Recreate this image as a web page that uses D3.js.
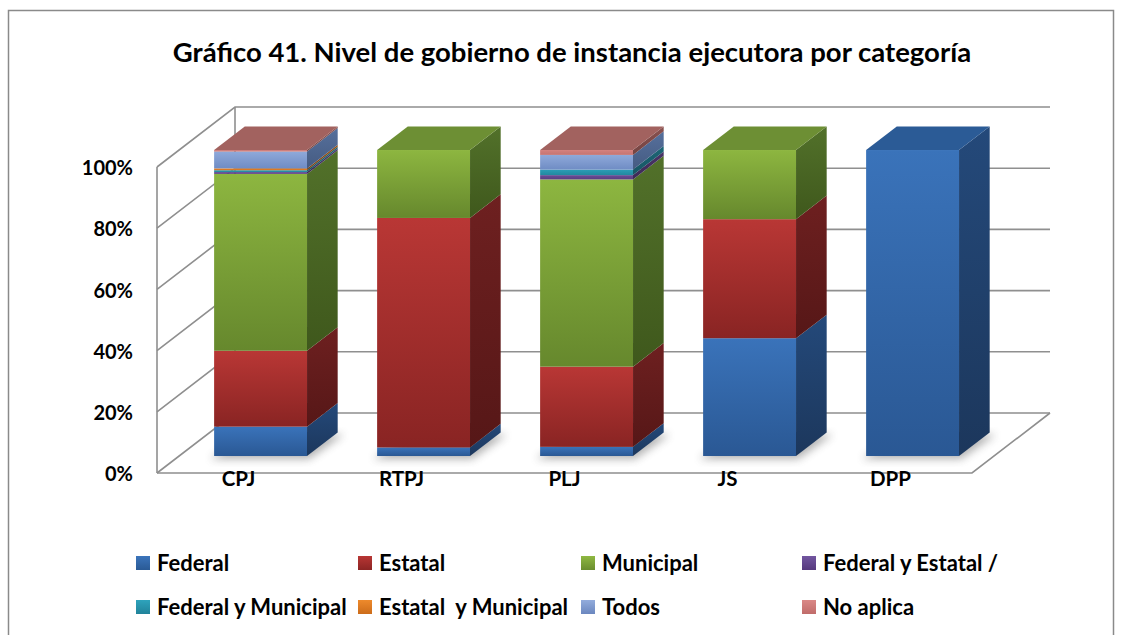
<!DOCTYPE html>
<html>
<head>
<meta charset="utf-8">
<script src="https://cdn.jsdelivr.net/npm/d3@7"></script>
<style>
  html, body { margin: 0; padding: 0; background: #fff; }
  svg { display: block; }
  text { font-family: Lato, "Open Sans", "DejaVu Sans", sans-serif; font-weight: 700; fill: #000; }
</style>
</head>
<body>
<svg id="chart" width="1122" height="635"></svg>
<script>
// Categories along the floor
const categories = ["CPJ", "RTPJ", "PLJ", "JS", "DPP"];

// Stacked series (percent of each category)
const seriesNames = ["Federal", "Estatal", "Municipal", "Federal y Estatal /",
                     "Federal y Municipal", "Estatal  y Municipal", "Todos", "No aplica"];
const federal        = [9.6, 2.8, 3.0, 38.5, 100];
const estatal        = [24.8, 75.0, 26.2, 38.9, 0];
const municipal      = [57.8, 22.2, 61.2, 22.6, 0];
const federalEstatal = [0.6, 0, 1.4, 0, 0];
const federalMunic   = [0.6, 0, 1.8, 0, 0];
const estatalMunic   = [0.6, 0, 0, 0, 0];
const todos          = [5.5, 0, 4.8, 0, 0];
const noAplica       = [0.5, 0, 1.6, 0, 0];

const yTicks = [0, 20, 40, 60, 80, 100];
const yTickLabels = ["0%", "20%", "40%", "60%", "80%", "100%"];

const titleText = "Gráfico 41. Nivel de gobierno de instancia ejecutora por categoría";

// Face colours per series: front gradient (light, dark), side gradient, top
const palette = [
  { legend: ["#3b74bb", "#2a5a95"], front: ["#3a73ba", "#2a5894"], side: ["#24497a", "#1c375c"], top: "#2b5b96" },
  { legend: ["#b83634", "#8c2524"], front: ["#b93735", "#892423"], side: ["#6e2020", "#561717"], top: "#8f2a29" },
  { legend: ["#8fb842", "#6a8d2f"], front: ["#8db640", "#66882d"], side: ["#52712a", "#3f581c"], top: "#6d8f34" },
  { legend: ["#7256a0", "#56397e"], front: ["#6b4d96", "#5a3d82"], side: ["#4a3468", "#3c2a56"], top: "#5a4180" },
  { legend: ["#2ea3bc", "#21839a"], front: ["#2b9db6", "#22889f"], side: ["#1d6676", "#175563"], top: "#237f93" },
  { legend: ["#ee8a2c", "#cc6c1a"], front: ["#ea862b", "#d2701d"], side: ["#94541c", "#7a4515"], top: "#c06a20" },
  { legend: ["#93acdc", "#6b87bf"], front: ["#8fa9da", "#6f8cc4"], side: ["#56709c", "#455b82"], top: "#7087b5" },
  { legend: ["#da8886", "#c06c6a"], front: ["#d5817e", "#c47472"], side: ["#8a5250", "#744341"], top: "#a2625f" }
];

const rows = categories.map((c, i) => ({
  cat: c,
  "Federal": federal[i], "Estatal": estatal[i], "Municipal": municipal[i],
  "Federal y Estatal /": federalEstatal[i], "Federal y Municipal": federalMunic[i],
  "Estatal  y Municipal": estatalMunic[i], "Todos": todos[i], "No aplica": noAplica[i]
}));
const stacked = d3.stack().keys(seriesNames)(rows);

const svg = d3.select("#chart");
const defs = svg.append("defs");

// ---- 3D frame geometry (front plane + oblique depth) ----
const frontLeft = 157, frontRight = 972;
const depthDX = 78, depthDY = -60;          // full floor depth offset
const barD0 = 0.283, barD1 = 0.676;          // bar depth span (fraction of floor depth)

const x = d3.scaleBand().domain(categories).range([frontLeft, frontRight])
  .paddingInner(0.43).paddingOuter(0.215);
const y = d3.scaleLinear().domain([0, 100]).range([473, 167]);

const proj = (px, py, d) => [px + d * depthDX, py + d * depthDY];

// Outer chart border
svg.append("rect").attr("x", 8.5).attr("y", 10.5).attr("width", 1105).attr("height", 640)
  .attr("fill", "none").attr("stroke", "#8a8a8a").attr("stroke-width", 1.5);

// Title
svg.append("text").attr("x", 572).attr("y", 62).attr("text-anchor", "middle")
  .style("font-size", "27.5px").text(titleText);

// Gridlines: along the left side wall then across the back wall
const grid = svg.append("g").attr("fill", "none").attr("stroke", "#8f8f8f").attr("stroke-width", 1.6);
yTicks.forEach(t => {
  const a = [frontLeft, y(t)];
  const b = proj(frontLeft, y(t), 1);
  grid.append("path").attr("d", d3.line()([a, b, [frontRight + depthDX, b[1]]]));
});
// Left wall vertical edges and floor outline
grid.append("path").attr("d", d3.line()([[frontLeft, y(0)], [frontLeft, y(100)]]));
grid.append("path").attr("d", d3.line()([proj(frontLeft, y(0), 1), proj(frontLeft, y(100), 1)]));
grid.append("path").attr("d", d3.line()([[frontLeft, y(0)], [frontRight, y(0)], proj(frontRight, y(0), 1)]));

// Y axis labels
svg.append("g").selectAll("text").data(yTicks).join("text")
  .attr("x", 133).attr("y", d => y(d) + 1).attr("dy", "0.36em").attr("text-anchor", "end")
  .style("font-size", "20px").text((d, i) => yTickLabels[i]);

// Category labels
svg.append("g").selectAll("text").data(categories).join("text")
  .attr("x", d => x(d) + x.bandwidth() / 2).attr("y", 486).attr("text-anchor", "middle")
  .style("font-size", "20.5px").text(d => d);

// Gradients
palette.forEach((p, i) => {
  [["front", p.front], ["side", p.side], ["legend", p.legend]].forEach(([k, cols]) => {
    const g = defs.append("linearGradient").attr("id", `g-${k}-${i}`)
      .attr("x1", 0).attr("y1", 0).attr("x2", 0).attr("y2", 1);
    g.append("stop").attr("offset", "0%").attr("stop-color", cols[0]);
    g.append("stop").attr("offset", "100%").attr("stop-color", cols[1]);
  });
});

// Soft floor shadow under each bar
const blur = defs.append("filter").attr("id", "shadowBlur")
  .attr("x", "-30%").attr("y", "-30%").attr("width", "160%").attr("height", "160%");
blur.append("feGaussianBlur").attr("stdDeviation", 4);

const bw = x.bandwidth();
const shadows = svg.append("g").attr("filter", "url(#shadowBlur)").attr("opacity", 0.45);
categories.forEach(c => {
  const xl = x(c), xr = x(c) + bw;
  const pts = [proj(xl - 4, y(0) + 3, barD0), proj(xr + 2, y(0) + 3, barD0),
               proj(xr + 6, y(0) + 2, barD1), proj(xl + 2, y(0) + 2, barD1)];
  shadows.append("polygon").attr("points", pts.map(p => p.join(",")).join(" ")).attr("fill", "#555");
});

// Bars: front face, right side face, and top face of the top-most segment
const bars = svg.append("g");
categories.forEach((c, ci) => {
  const xl = x(c), xr = x(c) + bw;
  const segs = stacked.map((s, si) => ({ si, y0: s[ci][0], y1: s[ci][1] })).filter(s => s.y1 - s.y0 > 0);
  const g = bars.append("g");
  segs.forEach((s, k) => {
    const ft = proj(xl, y(s.y1), barD0), fb = proj(xl, y(s.y0), barD0);
    g.append("rect").attr("x", ft[0]).attr("y", ft[1]).attr("width", bw).attr("height", fb[1] - ft[1])
      .attr("fill", `url(#g-front-${s.si})`);
    const side = [proj(xr, y(s.y1), barD0), proj(xr, y(s.y1), barD1),
                  proj(xr, y(s.y0), barD1), proj(xr, y(s.y0), barD0)];
    g.append("polygon").attr("points", side.map(p => p.join(",")).join(" "))
      .attr("fill", `url(#g-side-${s.si})`);
    if (k === segs.length - 1) {
      const top = [proj(xl, y(s.y1), barD0), proj(xr, y(s.y1), barD0),
                   proj(xr, y(s.y1), barD1), proj(xl, y(s.y1), barD1)];
      g.append("polygon").attr("points", top.map(p => p.join(",")).join(" "))
        .attr("fill", palette[s.si].top);
    }
  });
});

// Legend: two rows of four entries
const legendCols = [136, 358, 581, 802];
const legendRows = [563, 607];
const legend = svg.append("g").selectAll("g").data(seriesNames).join("g")
  .attr("transform", (d, i) => `translate(${legendCols[i % 4]},${legendRows[Math.floor(i / 4)]})`);
legend.append("rect").attr("x", 0).attr("y", -7).attr("width", 14).attr("height", 14)
  .attr("fill", (d, i) => `url(#g-legend-${i})`);
legend.append("text").attr("x", 21).attr("y", 0).attr("dy", "0.36em")
  .style("font-size", "22px").attr("xml:space", "preserve").text(d => d);
</script>
</body>
</html>
